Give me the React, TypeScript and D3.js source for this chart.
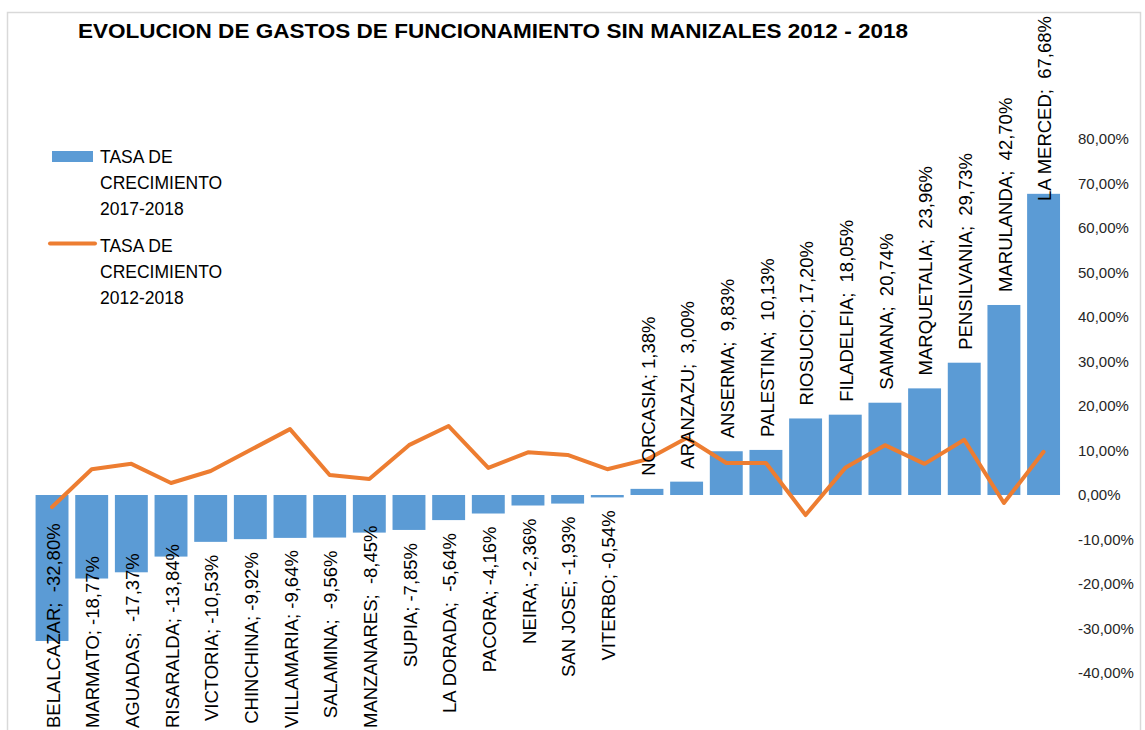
import React, { useEffect, useRef } from "react";
import * as d3 from "d3";

const categories = [
  "BELALCAZAR", "MARMATO", "AGUADAS", "RISARALDA", "VICTORIA", "CHINCHINA",
  "VILLAMARIA", "SALAMINA", "MANZANARES", "SUPIA", "LA DORADA", "PACORA",
  "NEIRA", "SAN JOSE", "VITERBO", "NORCASIA", "ARANZAZU", "ANSERMA",
  "PALESTINA", "RIOSUCIO", "FILADELFIA", "SAMANA", "MARQUETALIA",
  "PENSILVANIA", "MARULANDA", "LA MERCED",
];

const growth2017_2018 = [
  -32.8, -18.77, -17.37, -13.84, -10.53, -9.92, -9.64, -9.56, -8.45, -7.85,
  -5.64, -4.16, -2.36, -1.93, -0.54, 1.38, 3.0, 9.83, 10.13, 17.2, 18.05,
  20.74, 23.96, 29.73, 42.7, 67.68,
];

const growth2012_2018 = [
  -2.7, 5.8, 7.0, 2.7, 5.4, 10.1, 14.8, 4.5, 3.6, 11.2, 15.5, 6.1, 9.6, 9.0,
  5.8, 8.0, 12.8, 7.2, 7.2, -4.5, 6.1, 11.2, 7.0, 12.4, -1.8, 9.7,
];

// separator after "NAME;" as it appears in each data label
const labelSeparators = [
  "  ", " ", "  ", " ", " ", " ", " ", "  ", "  ", " ", "  ", " ", " ", " ",
  " ", " ", "  ", "  ", "  ", " ", "  ", "  ", "  ", "  ", "  ", "  ",
];

const yTicks = [80, 70, 60, 50, 40, 30, 20, 10, 0, -10, -20, -30, -40];

const title = "EVOLUCION DE GASTOS DE FUNCIONAMIENTO SIN MANIZALES 2012 - 2018";
const legendBars = ["TASA DE", "CRECIMIENTO", "2017-2018"];
const legendLine = ["TASA DE", "CRECIMIENTO", "2012-2018"];

const W = 1145;
const H = 730;
const FONT = "'Liberation Sans', Arial, sans-serif";
const BLUE = "#5B9BD5";
const ORANGE = "#ED7D31";

const fmt = (v: number) => v.toFixed(2).replace(".", ",") + "%";

export default function App() {
  const ref = useRef<SVGSVGElement | null>(null);

  useEffect(() => {
    const svg = d3.select(ref.current);
    svg.selectAll("*").remove();

    const x = d3
      .scaleBand<string>()
      .domain(categories)
      .range([32.2, 1063.4])
      .paddingInner(0.17)
      .paddingOuter(0.085);
    const y = d3.scaleLinear().domain([-40, 80]).range([673, 139]);

    // chart border
    svg
      .append("rect")
      .attr("x", 7.5)
      .attr("y", 12.5)
      .attr("width", 1133)
      .attr("height", 760)
      .attr("fill", "#fff")
      .attr("stroke", "#d9d9d9")
      .attr("stroke-width", 1.5);

    // title
    svg
      .append("text")
      .attr("x", 78)
      .attr("y", 37.5)
      .attr("font-family", FONT)
      .attr("font-weight", "bold")
      .attr("font-size", 20)
      .attr("textLength", 830)
      .attr("lengthAdjust", "spacingAndGlyphs")
      .attr("fill", "#000")
      .text(title);

    // y axis labels (right)
    svg
      .append("g")
      .selectAll("text")
      .data(yTicks)
      .join("text")
      .attr("x", 1078)
      .attr("y", (d) => y(d))
      .attr("dy", "0.35em")
      .attr("font-family", FONT)
      .attr("font-size", 15)
      .attr("fill", "#262626")
      .text((d) => fmt(d));

    // bars
    svg
      .append("g")
      .selectAll("rect")
      .data(categories)
      .join("rect")
      .attr("x", (d) => x(d)!)
      .attr("width", x.bandwidth())
      .attr("y", (_, i) => Math.min(y(0), y(growth2017_2018[i])))
      .attr("height", (_, i) => Math.abs(y(growth2017_2018[i]) - y(0)))
      .attr("fill", BLUE);

    // line
    const line = d3
      .line<number>()
      .x((_, i) => x(categories[i])! + x.bandwidth() / 2)
      .y((d) => y(d));
    svg
      .append("path")
      .datum(growth2012_2018)
      .attr("d", line)
      .attr("fill", "none")
      .attr("stroke", ORANGE)
      .attr("stroke-width", 4)
      .attr("stroke-linejoin", "round")
      .attr("stroke-linecap", "round");

    // data labels
    const fs = 18.5;
    const gl = svg.append("g");
    categories.forEach((name, i) => {
      const v = growth2017_2018[i];
      const cx = x(name)! + x.bandwidth() / 2 + 1;
      const t = gl
        .append("text")
        .attr("font-family", FONT)
        .attr("font-size", fs)
        .attr("fill", "#000")
        .style("white-space", "pre")
        .attr("xml:space", "preserve")
        .text(`${name};${labelSeparators[i]}${fmt(v)}`);
      const len = (t.node() as SVGTextElement).getComputedTextLength();
      let start: number;
      if (v >= 0) {
        start = y(v) - 13;
        if (start - len < 16) start = 16 + len;
      } else {
        let top = y(v) + 13;
        if (top + len > 728) top = 728 - len;
        start = top + len;
      }
      const bx = cx + fs * 0.36;
      t.attr("transform", `translate(${bx},${start}) rotate(-90)`);
    });

    // legend
    const lg = svg.append("g").attr("font-family", FONT).attr("font-size", 17.5).attr("fill", "#000");
    lg.append("rect").attr("x", 52).attr("y", 151).attr("width", 41).attr("height", 11).attr("fill", BLUE);
    legendBars.forEach((s, k) => {
      lg.append("text").attr("x", 100).attr("y", 163 + k * 26.2).text(s);
    });
    lg.append("line")
      .attr("x1", 50)
      .attr("x2", 95)
      .attr("y1", 243.5)
      .attr("y2", 243.5)
      .attr("stroke", ORANGE)
      .attr("stroke-width", 4)
      .attr("stroke-linecap", "round");
    legendLine.forEach((s, k) => {
      lg.append("text").attr("x", 100).attr("y", 251.5 + k * 26.2).text(s);
    });
  }, []);

  return (
    <svg
      ref={ref}
      width={W}
      height={H}
      style={{ position: "absolute", left: 0, top: 0, display: "block", background: "#fff" }}
    />
  );
}
